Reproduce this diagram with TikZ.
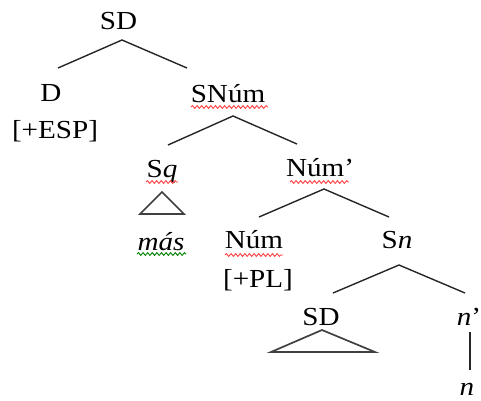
\documentclass[tikz,border=0pt]{standalone}
\usepackage{fontspec}
\setmainfont{Liberation Serif}[FakeStretch=1.12]
\usetikzlibrary{decorations.pathmorphing}
\tikzset{
  lbl/.style={anchor=base, inner sep=0pt, font=\fontsize{26}{30}\selectfont},
  branch/.style={draw=black!85, line width=1.4pt},
  tri/.style={draw=black!75, line width=1.7pt, line join=miter},
  squig/.style={draw=red!75, line width=0.9pt, decorate, decoration={snake, amplitude=1.4pt, segment length=4.6pt}},
  gsquig/.style={draw=green!50!black, line width=0.9pt, decorate, decoration={snake, amplitude=1.4pt, segment length=4.6pt}}
}
\begin{document}
\begin{tikzpicture}[x=1pt,y=-1pt]
\useasboundingbox (0,0) rectangle (481,400);
% labels
\node[lbl] (sd) at (118.5,29) {SD};
\node[lbl] (d) at (51,101) {D};
\node[lbl] (esp) at (55,138) {[+ESP]};
\node[lbl] (snum) at (228,102) {SNúm};
\node[lbl] (sq) at (162,177) {S\textit{q}};
\node[lbl] (mas) at (161,250) {\textit{más}};
\node[lbl] (numbar) at (320,176) {Núm’};
\node[lbl] (num) at (254,248) {Núm};
\node[lbl] (pl) at (258,287) {[+PL]};
\node[lbl] (sn) at (397,248) {S\textit{n}};
\node[lbl] (sd2) at (321,325) {SD};
\node[lbl] (nbar) at (469,325) {\textit{n}’};
\node[lbl] (n) at (467,395) {\textit{n}};
% branch points
\coordinate (sd-a) at (122,40);
\coordinate (sd-l) at (58,68);
\coordinate (sd-r) at (187,68);
\coordinate (snum-a) at (233,116);
\coordinate (snum-l) at (168,145);
\coordinate (snum-r) at (297,144);
\coordinate (numbar-a) at (324,189);
\coordinate (numbar-l) at (259,217);
\coordinate (numbar-r) at (389,217);
\coordinate (sn-a) at (399,265);
\coordinate (sn-l) at (333,293);
\coordinate (sn-r) at (465,293);
\coordinate (sq-a) at (162,192);
\coordinate (sq-l) at (140,214);
\coordinate (sq-r) at (184,214);
\coordinate (sd2-a) at (322,330);
\coordinate (sd2-l) at (271,352);
\coordinate (sd2-r) at (375,352);
\coordinate (nbar-b) at (470,332);
\coordinate (n-t) at (470,370);
% branches
\draw[branch] (sd-l) -- (sd-a) -- (sd-r);
\draw[branch] (snum-l) -- (snum-a) -- (snum-r);
\draw[branch] (numbar-l) -- (numbar-a) -- (numbar-r);
\draw[branch] (sn-l) -- (sn-a) -- (sn-r);
\draw[tri] (sq-a) -- (sq-l) -- (sq-r) -- cycle;
\draw[tri] (sd2-a) -- (sd2-l) -- (sd2-r) -- cycle;
\draw[branch] (nbar-b) -- (n-t);
% spell-check underlines
\draw[squig] (191,107) -- (268,107);
\draw[squig] (146,182) -- (178,182);
\draw[squig] (290,182) -- (349,182);
\draw[squig] (225,255) -- (283,255);
\draw[gsquig] (137,254) -- (186,254);
\end{tikzpicture}
\end{document}
